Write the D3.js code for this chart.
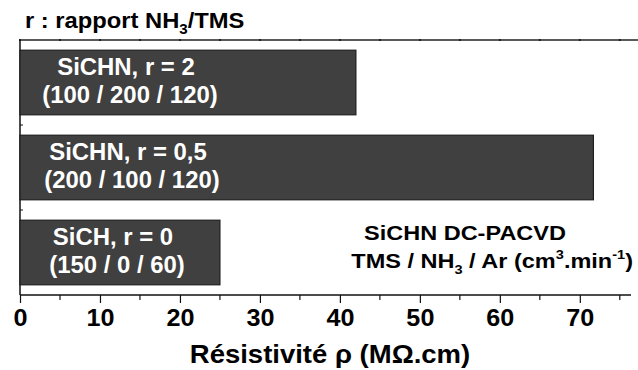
<!DOCTYPE html>
<html>
<head>
<meta charset="utf-8">
<script src="https://cdn.jsdelivr.net/npm/d3@7/dist/d3.min.js"></script>
<style>
  html, body { margin: 0; padding: 0; background: #fff; }
  svg { display: block; }
  text { font-family: "Liberation Sans", Arial, Helvetica, sans-serif; font-weight: bold; }
</style>
</head>
<body>
<svg id="chart" width="638" height="370"></svg>
<script>
// Samples, top to bottom
const categories = ["SiCHN, r = 2", "SiCHN, r = 0,5", "SiCH, r = 0"];
const flows = ["(100 / 200 / 120)", "(200 / 100 / 120)", "(150 / 0 / 60)"];
// Resistivity in MOhm.cm
const resistivity = [42, 71.7, 25];
const xTicks = [0, 10, 20, 30, 40, 50, 60, 70];

const svg = d3.select("#chart");
const plotLeft = 20, plotRight = 631, plotTop = 40, plotBottom = 295;

const x = d3.scaleLinear().domain([0, 76.4]).range([plotLeft, plotRight]);
const y = d3.scaleBand().domain(categories).range([plotTop, plotBottom]).paddingInner(0.24).paddingOuter(0.12);

// Widen a text horizontally about its anchor point
function widen(sel, sx) {
  const ax = +sel.attr("x");
  sel.attr("transform", `translate(${ax},0) scale(${sx},1) translate(${-ax},0)`);
  return sel;
}

// Frame top line with small ticks
svg.append("line").attr("x1", plotLeft).attr("x2", 638).attr("y1", plotTop).attr("y2", plotTop)
  .attr("stroke", "#5a5a5a").attr("stroke-width", 2);
d3.range(0, 80, 5).forEach(v => {
  svg.append("rect").attr("x", x(v) - 1).attr("y", plotTop - 1).attr("width", 2).attr("height", 2).attr("fill", "#222");
});

// Left axis with small inward ticks at quarter-band steps
svg.append("line").attr("x1", plotLeft).attr("x2", plotLeft).attr("y1", plotTop).attr("y2", plotBottom)
  .attr("stroke", "#111").attr("stroke-width", 1.5);
const step = (plotBottom - plotTop) / 12;
d3.range(1, 12).forEach(i => {
  svg.append("line").attr("x1", plotLeft).attr("x2", plotLeft + 3)
    .attr("y1", plotTop + i * step).attr("y2", plotTop + i * step)
    .attr("stroke", "#111").attr("stroke-width", 1);
});

// Bars
const labelX = [126, 128, 113];
const rows = categories.map((c, i) => ({ c, f: flows[i], v: resistivity[i], lx: labelX[i] }));
svg.selectAll("rect.bar").data(rows).join("rect")
  .attr("class", "bar")
  .attr("x", x(0))
  .attr("y", d => y(d.c))
  .attr("width", d => x(d.v) - x(0))
  .attr("height", y.bandwidth())
  .attr("fill", "#404040")
  .attr("stroke", "#1e1e1e")
  .attr("stroke-width", 1.2);

rows.forEach(d => {
  const cy = y(d.c) + y.bandwidth() / 2;
  widen(svg.append("text").attr("x", d.lx).attr("y", cy - 7).attr("text-anchor", "middle")
    .attr("fill", "#fff").attr("font-size", 23).text(d.c), 1.04);
  widen(svg.append("text").attr("x", d.lx + 4).attr("y", cy + 21).attr("text-anchor", "middle")
    .attr("fill", "#fff").attr("font-size", 23).text(d.f), 1.04);
});

// Bottom axis
const xAxis = d3.axisBottom(x).tickValues(xTicks).tickSize(8).tickFormat(d3.format("d"));
const gx = svg.append("g").attr("transform", `translate(0,${plotBottom})`).call(xAxis);
gx.select(".domain").attr("stroke", "#111").attr("stroke-width", 1.5).attr("d", `M${plotLeft},0H${plotRight}`);
gx.selectAll(".tick line").attr("stroke", "#111").attr("stroke-width", 1.2);
gx.selectAll(".tick text").attr("font-size", 24).attr("fill", "#000").attr("dy", null).attr("y", 31)
  .attr("transform", "scale(1.05,1)")
  .style("font-family", "'Liberation Sans', Arial, sans-serif").style("font-weight", "bold");
d3.range(5, 80, 10).forEach(v => {
  gx.append("line").attr("x1", x(v)).attr("x2", x(v)).attr("y1", 0).attr("y2", 5)
    .attr("stroke", "#111").attr("stroke-width", 1.2);
});

// Axis title
widen(svg.append("text").attr("x", 330).attr("y", 363).attr("text-anchor", "middle")
  .attr("font-size", 25).attr("fill", "#000").text("Résistivité ρ (MΩ.cm)"), 1.1);

// Header
const t = svg.append("text").attr("x", 25).attr("y", 28).attr("font-size", 22).attr("fill", "#000");
t.append("tspan").text("r : rapport NH");
t.append("tspan").attr("font-size", 14).attr("dy", 6).text("3");
t.append("tspan").attr("dy", -6).text("/TMS");
widen(t, 1.08);

// Annotation
widen(svg.append("text").attr("x", 465).attr("y", 240).attr("text-anchor", "middle")
  .attr("font-size", 21).attr("fill", "#000").text("SiCHN DC-PACVD"), 1.12);
const a = svg.append("text").attr("x", 633).attr("y", 268).attr("text-anchor", "end")
  .attr("font-size", 21).attr("fill", "#000");
a.append("tspan").text("TMS / NH");
a.append("tspan").attr("font-size", 13).attr("dy", 6).text("3");
a.append("tspan").attr("dy", -6).text(" / Ar (cm");
a.append("tspan").attr("font-size", 13).attr("dy", -9).text("3");
a.append("tspan").attr("dy", 9).text(".min");
a.append("tspan").attr("font-size", 13).attr("dy", -9).text("-1");
a.append("tspan").attr("dy", 9).text(")");
widen(a, 1.12);
</script>
</body>
</html>
